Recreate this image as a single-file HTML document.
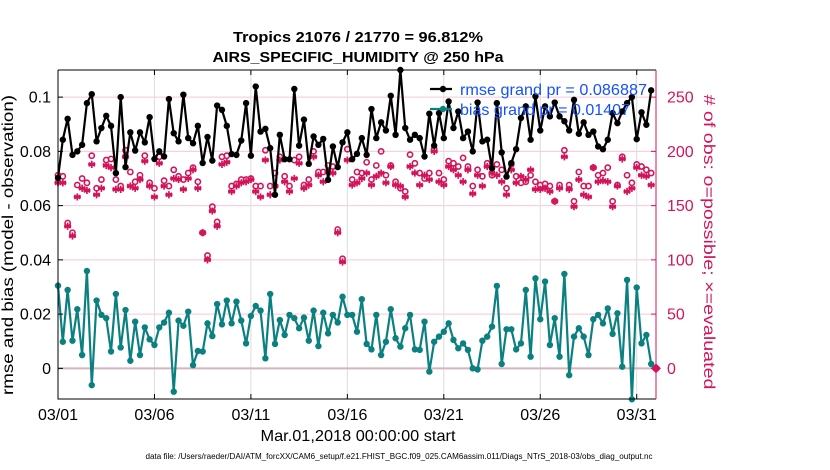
<!DOCTYPE html>
<html><head><meta charset="utf-8"><style>
html,body{margin:0;padding:0;background:#fff;}
svg{display:block;font-family:"Liberation Sans",Arial,sans-serif;}
</style></head><body>
<svg id="chart" width="830" height="470" viewBox="0 0 830 470" xmlns="http://www.w3.org/2000/svg">
<rect x="0" y="0" width="830" height="470" fill="#fff"/>
<text x="358" y="42" text-anchor="middle" font-size="15" font-weight="bold" textLength="250" lengthAdjust="spacingAndGlyphs">Tropics 21076 / 21770 = 96.812%</text>
<text x="358" y="62" text-anchor="middle" font-size="15" font-weight="bold" textLength="291" lengthAdjust="spacingAndGlyphs">AIRS_SPECIFIC_HUMIDITY @ 250 hPa</text>
<g id="grid"></g>
<g id="series"></g>
<g id="axes"></g>
<text transform="translate(13,245) rotate(-90)" text-anchor="middle" font-size="16" textLength="300" lengthAdjust="spacingAndGlyphs">rmse and bias (model - observation)</text>
<text transform="translate(704,242) rotate(90)" text-anchor="middle" font-size="16" fill="#d4145a" textLength="295" lengthAdjust="spacingAndGlyphs"># of obs: o=possible; ×=evaluated</text>
<text x="358" y="441" text-anchor="middle" font-size="16" textLength="195" lengthAdjust="spacingAndGlyphs">Mar.01,2018 00:00:00 start</text>
<text x="399" y="459" text-anchor="middle" font-size="8" textLength="507" lengthAdjust="spacingAndGlyphs">data file: /Users/raeder/DAI/ATM_forcXX/CAM6_setup/f.e21.FHIST_BGC.f09_025.CAM6assim.011/Diags_NTrS_2018-03/obs_diag_output.nc</text>
<g id="legend"></g>
</svg>
<script>
const xTickLabels = ["03/01","03/06","03/11","03/16","03/21","03/26","03/31"];
const xTickDays = [0,5,10,15,20,25,30];
const leftTicks = [0,0.02,0.04,0.06,0.08,0.1];
const leftTickLabels = ["0","0.02","0.04","0.06","0.08","0.1"];
const rightTicks = [0,50,100,150,200,250];
const rmse = [0.0702,0.0843,0.092,0.0787,0.080,0.0824,0.0978,0.1011,0.0837,0.0886,0.0931,0.0894,0.072,0.100,0.0742,0.087,0.0803,0.087,0.0833,0.0926,0.0772,0.080,0.0781,0.0993,0.0867,0.0837,0.1009,0.0849,0.083,0.0894,0.0757,0.0853,0.0766,0.0969,0.0953,0.0894,0.079,0.0787,0.084,0.0978,
0.0784,0.1039,0.0873,0.0883,0.0812,0.064,0.0861,0.0771,0.0771,0.103,0.0821,0.0917,0.0754,0.0855,0.0824,0.0846,0.0695,0.0818,0.0742,0.0833,0.087,0.0771,0.0791,0.0849,0.0787,0.0956,0.0849,0.0907,0.0877,0.1005,0.0861,0.110,0.0886,0.0843,0.0861,0.0849,0.0781,0.0939,0.0821,0.0941,0.0849,0.0984,
0.0886,0.0947,0.0849,0.0873,0.080,0.098,0.0837,0.0843,0.0738,0.0978,0.0796,0.0707,0.0757,0.0808,0.0923,0.0966,0.0843,0.1003,0.0877,0.0966,0.0929,0.098,0.0929,0.0911,0.0877,0.099,0.0865,0.0907,0.0861,0.0873,0.0818,0.0808,0.0843,0.0941,0.0904,0.0947,0.0978,0.100,0.0845,0.0944,0.0898,0.1025];
const bias = [0.0305,0.0098,0.0289,0.0102,0.0218,0.0049,0.0359,-0.0062,0.025,0.0197,0.0185,0.0062,0.0274,0.0077,0.0215,0.0028,0.0172,0.0049,0.0151,0.0107,0.0086,0.0151,0.0169,0.0205,-0.0086,0.0176,0.0157,0.0209,0.0012,0.0064,0.0062,0.0166,0.0119,0.0237,0.0162,0.025,0.0166,0.0246,0.0176,0.0092,
0.0193,0.023,0.0213,0.0037,0.0274,0.009,0.0178,0.0123,0.0197,0.0185,0.0148,0.0187,0.0102,0.0213,0.0082,0.0205,0.0129,0.0197,0.0169,0.0264,0.0197,0.0197,0.0135,0.0255,0.009,0.007,0.0197,0.0049,0.0098,0.0218,0.0111,0.008,0.0148,0.0197,0.007,0.0068,0.0172,-0.0012,0.0098,0.0117,0.0135,0.0166,
0.0105,0.0074,0.0092,0.0068,0,-0.0004,0.0102,0.0117,0.0154,0.0304,0.0016,0.0144,0.0144,0.007,0.0092,0.0289,0.0043,0.0332,0.0181,0.032,0.0086,0.0185,0.0043,0.0348,-0.0025,0.0117,0.0148,0.0117,0.0049,0.0181,0.0197,0.0166,0.0221,0.0127,0.0203,0.0006,0.0326,-0.0114,0.0298,0.0092,0.0123,0.0016];
const nEvaluated = [171,171,131,122,158,166,164,188,160,166,187,185,165,165,195,168,166,174,191,168,158,189,168,160,175,174,165,175,183,166,125,100,145,131,188,190,163,168,171,172,
174,163,158,192,160,168,192,172,163,175,189,166,169,195,178,172,181,180,125,98,192,169,171,175,180,169,177,180,171,186,169,168,158,186,180,169,178,174,200,172,169,186,
183,178,172,183,161,178,168,186,180,178,172,160,183,171,177,174,183,165,165,166,163,154,166,195,165,149,174,160,158,185,172,173,172,149,168,193,163,166,185,178,177,169,0];
const nPossible = [178,177,134,125,169,175,171,196,166,174,192,193,174,168,201,181,172,178,196,171,166,195,173,168,183,177,174,180,185,172,125,104,149,135,195,196,168,170,174,174,
175,168,168,201,168,180,195,177,168,192,195,169,174,200,181,181,187,186,128,101,202,174,181,180,190,174,187,200,178,187,172,166,163,197,189,180,175,180,202,180,174,191,
189,186,194,186,168,183,177,189,178,188,183,166,188,177,171,172,178,172,169,170,168,154,169,201,169,154,181,168,168,185,178,180,185,154,169,195,178,171,188,186,183,180,0];

const NS="http://www.w3.org/2000/svg";
const PL=58, PR=656, PT=70, PB=399;
const X0DAY=0, X1DAY=31;
const YMIN=-0.0113, YMAX=0.110;
const RED="#d4145a", TEAL="#0b8080";
function xs(i){ const d=i*0.25; return PL+(d-X0DAY)/(X1DAY-X0DAY)*(PR-PL); }
function xd(d){ return PL+(d-X0DAY)/(X1DAY-X0DAY)*(PR-PL); }
function yl(v){ return PB-(v-YMIN)/(YMAX-YMIN)*(PB-PT); }
function yr(c){ return yl(c/2500); }
function mk(tag, attrs, parent){ const e=document.createElementNS(NS,tag); for(const k in attrs) e.setAttribute(k,attrs[k]); parent.appendChild(e); return e; }

const grid=document.getElementById('grid');
const axes=document.getElementById('axes');
const series=document.getElementById('series');
const legend=document.getElementById('legend');

leftTicks.forEach((v,i)=>{
  const y=yl(v);
  const g=mk('line',{x1:PL,x2:PR,y1:y,y2:y,stroke:'#f6c8d8','stroke-width':1},grid);
  
  
  const t=mk('text',{x:51,y:y+5.5,'text-anchor':'end','font-size':16},axes);
  t.textContent=leftTickLabels[i];
  
  
  const tk=mk('line',{x1:PL,x2:PL+5,y1:y,y2:y,stroke:'#000'},axes);
  
  
});
rightTicks.forEach(c=>{
  const y=yr(c);
  const t=mk('text',{x:667,y:y+5.5,'font-size':16,fill:RED},axes);
  t.textContent=String(c);
  
  
  const tk=mk('line',{x1:PR-5,x2:PR,y1:y,y2:y,stroke:RED},axes);
  
  
});
xTickDays.forEach((d,i)=>{
  const x=xd(d);
  if(i>0){
    const g=mk('line',{x1:x,x2:x,y1:PT,y2:PB,stroke:'#dcdcdc','stroke-width':1},grid);
    
    
  }
  const tk=mk('line',{x1:x,x2:x,y1:PB,y2:PB-5,stroke:'#000'},axes);
  
  
  const tk2=mk('line',{x1:x,x2:x,y1:PT,y2:PT+5,stroke:'#000'},axes);
  
  
  const t=mk('text',{x:x,y:420,'text-anchor':'middle','font-size':16},axes);
  t.textContent=xTickLabels[i];
  
  
});
const zl=mk('line',{x1:PL,x2:PR,y1:yl(0),y2:yl(0),stroke:'#d6b4bc','stroke-width':2},grid);



// counts
nEvaluated.forEach((c,i)=>{
  const x=xs(i), y=yr(c), r=3.6;
  const d=`M${x},${y-r}L${x},${y+r}M${x-r*0.87},${y-r/2}L${x+r*0.87},${y+r/2}M${x-r*0.87},${y+r/2}L${x+r*0.87},${y-r/2}M${x-r},${y}L${x+r},${y}`;
  const s=mk('path',{d:d,stroke:RED,'stroke-width':1.7,fill:'none'},series);
  
  
});
nPossible.forEach((c,i)=>{
  const x=xs(i), y=yr(c);
  const o=mk('circle',{cx:x,cy:y,r:2.6,fill:'none',stroke:RED,'stroke-width':1.6},series);
  
  
});
const last=nEvaluated.length-1;
const dm=mk('rect',{x:xs(last)-3.5,y:yr(nEvaluated[last])-3.5,width:7,height:7,fill:RED,transform:`rotate(45 ${xs(last)} ${yr(nEvaluated[last])})`},series);



function lineSeries(arr,color,name){
  const pts=arr.map((v,i)=>xs(i).toFixed(1)+','+yl(v).toFixed(1)).join(' ');
  const pl=mk('polyline',{points:pts,fill:'none',stroke:color,'stroke-width':2.2,'stroke-linejoin':'round'},series);
  
  
  arr.forEach((v,i)=>{
    const c=mk('circle',{cx:xs(i),cy:yl(v),r:3.2,fill:color},series);
    
    
  });
}
lineSeries(bias,TEAL,'bias');
lineSeries(rmse,'#000','rmse');

// frame
const fr=mk('path',{d:`M${PL},${PT} L${PL},${PB} L${PR},${PB}`,fill:'none',stroke:'#000','stroke-width':1},axes);


const ft=mk('line',{x1:PL,x2:PR,y1:PT,y2:PT,stroke:'#000'},axes);


const ra=mk('line',{x1:PR,x2:PR,y1:PT,y2:PB,stroke:RED,'stroke-width':1},axes);



// legend
[['#000',89,'rmse grand pr = 0.086887','legend-rmse'],[TEAL,109,'bias grand pr = 0.01407','legend-bias']].forEach(([c,y,txt,nm])=>{
  const l=mk('line',{x1:430,x2:452,y1:y,y2:y,stroke:c,'stroke-width':2.2},legend);
  
  
  const d=mk('circle',{cx:443,cy:y,r:3.2,fill:c},legend);
  
  
  const t=mk('text',{x:460,y:y+6,'font-size':16,fill:'#1450ff',textLength:(nm==='legend-rmse'?187:170),lengthAdjust:'spacingAndGlyphs'},legend);
  t.textContent=txt;
  
  
});
</script>
</body></html>
